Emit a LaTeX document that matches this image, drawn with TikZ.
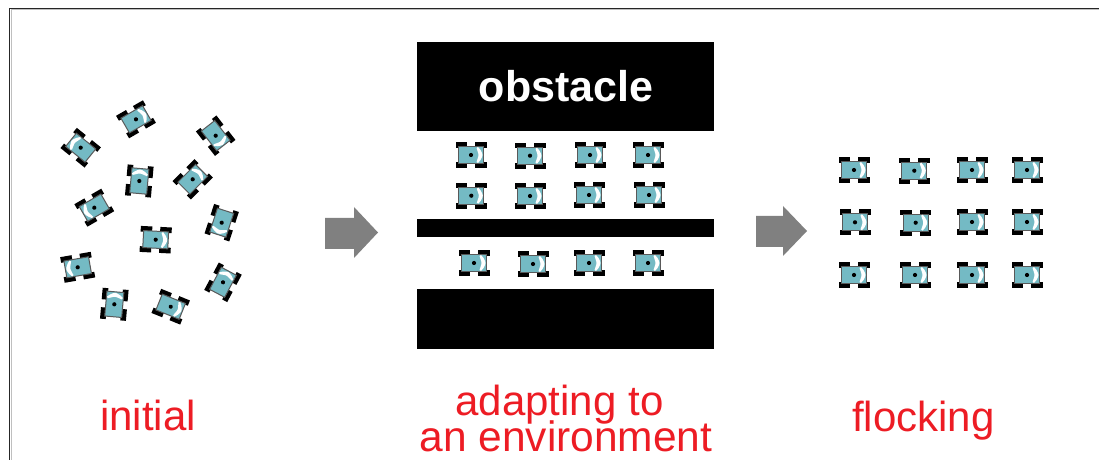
\documentclass[tikz,border=0pt]{standalone}
\usepackage{fontspec}
\setmainfont{Liberation Sans}
\definecolor{teal}{RGB}{116,186,196}
\definecolor{redtext}{RGB}{237,28,36}
\definecolor{arrowgray}{RGB}{128,128,128}
\tikzset{
  x=1bp,y=-1bp,
  block/.style={fill=black,draw=none},
  bigarrow/.style={fill=arrowgray,draw=none},
  caption/.style={text=redtext,font=\fontsize{42bp}{42bp}\selectfont,anchor=base,inner sep=0pt},
  robot/.pic={
    \fill[black] (-15.5,-13) rectangle (-4,-7.3);
    \fill[black] (4,-13) rectangle (15.5,-7.3);
    \fill[black] (-15.5,7.3) rectangle (-4,13);
    \fill[black] (4,7.3) rectangle (15.5,13);
    \filldraw[fill=teal,draw=black!65,line width=1bp] (-12.5,-8.5) rectangle (12.5,8.5);
    \fill[white] (7,-8) -- (9.5,-5) .. controls (11,-2.5) and (11.5,-1) .. (11.5,0) .. controls (11.5,1) and (11,2.5) .. (9.5,5) -- (7,8)
       -- (5.5,7) -- (6.5,4) .. controls (7.2,2) and (7.5,1) .. (7.5,0) .. controls (7.5,-1) and (7.2,-2) .. (6.5,-4) -- (5.5,-7) -- cycle;
    \fill[black] (0,0) circle (2.1);
  }
}
\begin{document}
\begin{tikzpicture}
\useasboundingbox (0,0) rectangle (1099,460);
\fill[white] (0,0) rectangle (1099,460);
% frame
\draw[black!25,line width=1bp] (1099,10) -- (11,10) -- (11,460);
\draw[black!85,line width=1.2bp] (1099,8.6) -- (9.6,8.6) -- (9.6,460);
% obstacles
\node[block,minimum width=297bp,minimum height=89bp,inner sep=0pt] (top) at (565.5,86.5) {};
\node[block,minimum width=297bp,minimum height=18bp,inner sep=0pt] (mid) at (565.5,228) {};
\node[block,minimum width=297bp,minimum height=60bp,inner sep=0pt] (bot) at (565.5,319) {};
\node[text=white,font=\fontsize{43bp}{43bp}\selectfont\bfseries,anchor=base,inner sep=0pt] (obst) at (566,102) {obstacle};
% arrows
\fill[bigarrow] (325,218) -- (354,218) -- (354,207) -- (378,232.5) -- (354,258) -- (354,249) -- (325,249) -- cycle;
\fill[bigarrow] (756,216) -- (783,216) -- (783,206) -- (807,231) -- (783,256) -- (783,247) -- (756,247) -- cycle;
% initial robots
\foreach \px/\py/\a in {80.7/147.7/141,136/119.3/30,215.7/135.7/-52,139.3/181/85,192.7/179.3/45,94.3/207.7/210,221.7/222.7/-108,155.7/239.7/-3,77.7/267.3/190,114.3/304.3/85,170.7/306.7/-22,223/282.3/62}
  \pic[rotate=\a] at (\px,\py) {robot};
% adapting robots
\foreach \px/\py in {471/155,530/155.7,590/155,648/155,471.3/195.7,530/196,589/195,649/195,474/263,533/264,589/263,648/263}
  \pic at (\px,\py) {robot};
% flocking robots
\foreach \px/\py in {854/170,914.3/170.7,972/170,1027/170,855/222.3,915.7/222.7,972/222,1027/222,854/275,915/275,972/275,1027/275}
  \pic at (\px,\py) {robot};
% captions
\node[caption] (c1) at (148,431) {initial};
\node[caption] (c2a) at (559.5,416) {adapting to};
\node[caption,font=\fontsize{42.5bp}{42.5bp}\selectfont] (c2b) at (566,451) {an environment};
\node[caption] (c3) at (923.5,432) {flocking};
\end{tikzpicture}
\end{document}
